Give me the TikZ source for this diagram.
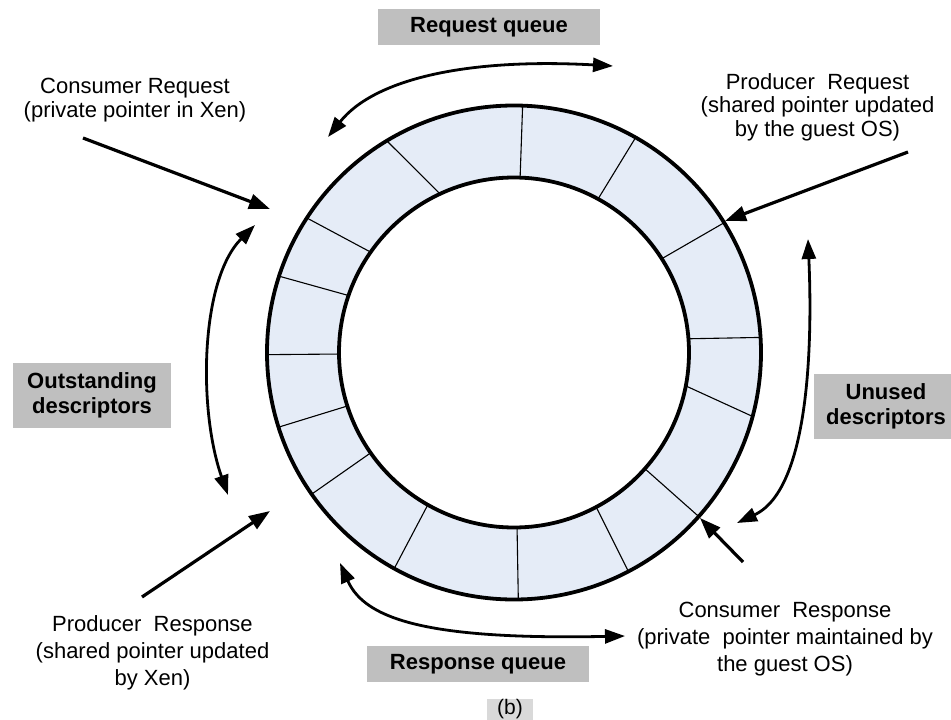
\documentclass[tikz,border=0pt]{standalone}
\usepackage{fontspec}
\setmainfont{Liberation Sans}
\usetikzlibrary{arrows.meta,calc}
\definecolor{ringblue}{HTML}{E5ECF7}
\definecolor{boxgray}{HTML}{BFBFBF}
\definecolor{capgray}{HTML}{D9D9D9}
\begin{document}
\begin{tikzpicture}[x=1pt,y=-1pt,
  lbl/.style={font=\fontsize{22}{23.5}\selectfont, align=center, inner sep=0pt},
  lblwide/.style={font=\fontsize{22}{27}\selectfont, align=center, inner sep=0pt},
  qbox/.style={fill=boxgray, font=\bfseries\fontsize{22}{25}\selectfont, align=center, inner sep=0pt},
  ringline/.style={line width=3.8pt},
  divider/.style={line width=1.1pt},
  ptr/.style={line width=3.2pt, -{Triangle[length=21pt,width=15pt]}},
  curv/.style={line width=2.8pt, {Triangle[length=20pt,width=14pt]}-{Triangle[length=20pt,width=14pt]}}]
\useasboundingbox (0,0) rectangle (951,720);
\fill[white] (0,0) rectangle (951,720);
\coordinate (C) at (514,352.5);
% ring
\fill[ringblue, even odd rule] (C) circle[radius=247pt] (C) circle[radius=175pt];
\foreach \a/\b in {88/88, 121/115, 147/145, 162/161, 180.5/180.5, 197.6/197.8, 215/215, 241/240.5, 271/271, 297.6/298, 318.4/318.4, 345/349, 3.5/4.5, 31.7/32.4, 60.5/61.3}
  \draw[divider] ($(C)+(\a:247pt)$) -- ($(C)+(\b:175pt)$);
\draw[ringline] (C) circle[radius=247pt];
\draw[ringline] (C) circle[radius=175pt];
% gray labels
\node[qbox, minimum width=222pt, minimum height=36pt] (rq) at (489,27) {Request queue};
\node[qbox, minimum width=158pt, minimum height=65pt] (od) at (92,395.5) {Outstanding\\descriptors};
\node[qbox, minimum width=144pt, minimum height=65pt] (ud) at (886,406.5) {Unused\\descriptors};
\node[qbox, minimum width=222pt, minimum height=36pt] (rsq) at (478,664) {Response queue};
\node[fill=capgray, minimum width=46pt, minimum height=21pt, inner sep=0pt, font=\fontsize{21}{22}\selectfont] (cap) at (510,709.5) {(b)};
% pointer labels
\node[lbl] (cr) at (135,100) {Consumer Request\\(private pointer in Xen)};
\node[lbl] (pr) at (817.5,107) {Producer\ \ Request\\(shared pointer updated\\by the guest OS)};
\node[lblwide] (ps) at (152.5,653) {Producer\ \ Response\\(shared pointer updated\\by Xen)};
\node[lblwide] (cs) at (785,639.5) {Consumer\ \ Response\\(private\ \ pointer maintained by\\the guest OS)};
% straight pointer arrows
\coordinate (crS) at (83,138);  \coordinate (crE) at (270,209);
\coordinate (prS) at (908,152); \coordinate (prE) at (725,221);
\coordinate (psS) at (142,597); \coordinate (psE) at (270,511);
\coordinate (csS) at (743,562); \coordinate (csE) at (700,518);
\draw[ptr] (crS) -- (crE);
\draw[ptr] (prS) -- (prE);
\draw[ptr] (psS) -- (psE);
\draw[ptr] (csS) -- (csE);
% curved double arrows
\coordinate (tA) at (613,66);  \coordinate (tB) at (328,137);
\coordinate (lA) at (255,225); \coordinate (lB) at (228,495);
\coordinate (rA) at (808,239); \coordinate (rB) at (737,523);
\coordinate (bA) at (340,563); \coordinate (bB) at (625,636);
\draw[curv] (tA) .. controls (470,58) and (375,78) .. (tB);
\draw[curv] (lA) .. controls (200,280) and (198,410) .. (lB);
\draw[curv] (rA) .. controls (812,330) and (812,488) .. (rB);
\draw[curv] (bA) .. controls (365,620) and (430,640) .. (bB);
\end{tikzpicture}
\end{document}
